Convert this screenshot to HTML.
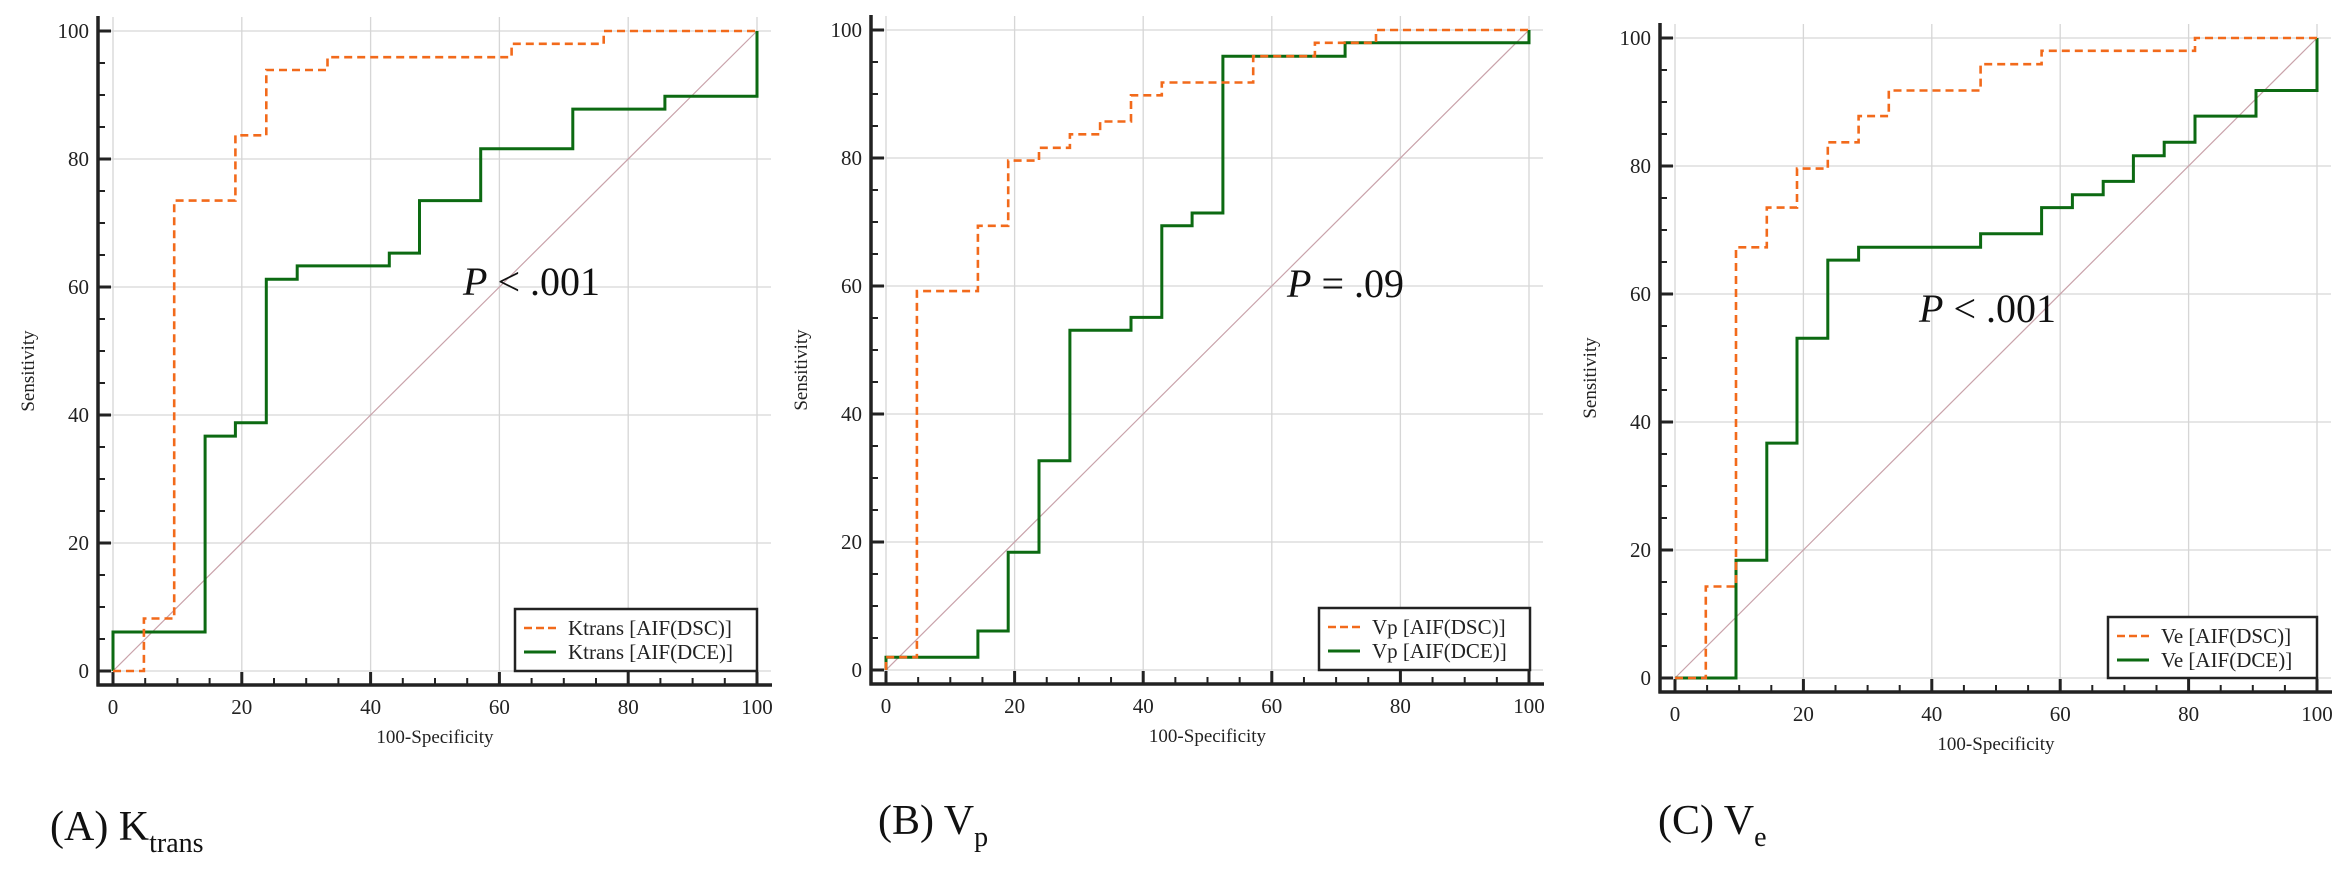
<!DOCTYPE html>
<html><head><meta charset="utf-8"><style>
html,body{margin:0;padding:0;background:#fff;}
svg{display:block;font-family:"Liberation Serif",serif;}
</style></head><body>
<svg id="fig" width="2339" height="875" viewBox="0 0 2339 875" xmlns="http://www.w3.org/2000/svg"></svg>
<script>
// ROC vertices (100-Specificity, Sensitivity)
const ktransDscX=[0,4.8,4.8,9.5,9.5,19,19,23.8,23.8,33.3,33.3,61.9,61.9,76.2,76.2,100];
const ktransDscY=[0,0,8.2,8.2,73.5,73.5,83.7,83.7,93.9,93.9,95.9,95.9,98,98,100,100];
const ktransDceX=[0,0,14.3,14.3,19,19,23.8,23.8,28.6,28.6,42.9,42.9,47.6,47.6,57.1,57.1,71.4,71.4,85.7,85.7,100,100];
const ktransDceY=[0,6.1,6.1,36.7,36.7,38.8,38.8,61.2,61.2,63.3,63.3,65.3,65.3,73.5,73.5,81.6,81.6,87.8,87.8,89.8,89.8,100];
const vpDscX=[0,0,4.8,4.8,14.3,14.3,19,19,23.8,23.8,28.6,28.6,33.3,33.3,38.1,38.1,42.9,42.9,57.1,57.1,66.7,66.7,76.2,76.2,100];
const vpDscY=[0,2,2,59.2,59.2,69.4,69.4,79.6,79.6,81.6,81.6,83.7,83.7,85.7,85.7,89.8,89.8,91.8,91.8,95.9,95.9,98,98,100,100];
const vpDceX=[0,0,14.3,14.3,19,19,23.8,23.8,28.6,28.6,38.1,38.1,42.9,42.9,47.6,47.6,52.4,52.4,71.4,71.4,100,100];
const vpDceY=[0,2,2,6.1,6.1,18.4,18.4,32.7,32.7,53.1,53.1,55.1,55.1,69.4,69.4,71.4,71.4,95.9,95.9,98,98,100];
const veDscX=[0,4.8,4.8,9.5,9.5,14.3,14.3,19,19,23.8,23.8,28.6,28.6,33.3,33.3,47.6,47.6,57.1,57.1,81,81,100];
const veDscY=[0,0,14.3,14.3,67.3,67.3,73.5,73.5,79.6,79.6,83.7,83.7,87.8,87.8,91.8,91.8,95.9,95.9,98,98,100,100];
const veDceX=[0,9.5,9.5,14.3,14.3,19,19,23.8,23.8,28.6,28.6,47.6,47.6,57.1,57.1,61.9,61.9,66.7,66.7,71.4,71.4,76.2,76.2,81,81,90.5,90.5,100,100];
const veDceY=[0,0,18.4,18.4,36.7,36.7,53.1,53.1,65.3,65.3,67.3,67.3,69.4,69.4,73.5,73.5,75.5,75.5,77.6,77.6,81.6,81.6,83.7,83.7,87.8,87.8,91.8,91.8,100];
const tickValues=[0,20,40,60,80,100];
const pLabels=["< .001","= .09","< .001"];
const legendNames=["Ktrans","Vp","Ve"];

const NS="http://www.w3.org/2000/svg";
const svg=document.getElementById('fig');
function mk(tag,attrs,parent){const e=document.createElementNS(NS,tag);for(const k in attrs)e.setAttribute(k,attrs[k]);(parent||svg).appendChild(e);return e;}

const panels=[
 {id:'a',x0:113,x1:757,y0:671,y1:31,ax:98,ay:685,lg:[515,609,242,62],p:[463,295],dsc:[ktransDscX,ktransDscY],dce:[ktransDceX,ktransDceY],lab:[50,840,"(A) K","trans"]},
 {id:'b',x0:886,x1:1529,y0:670,y1:30,ax:871,ay:684,lg:[1319,608,211,62],p:[1287,297],dsc:[vpDscX,vpDscY],dce:[vpDceX,vpDceY],lab:[878,834,"(B) V","p"]},
 {id:'c',x0:1675,x1:2317,y0:678,y1:38,ax:1660,ay:692,lg:[2108,617,209,61],p:[1919,322],dsc:[veDscX,veDscY],dce:[veDceX,veDceY],lab:[1658,834,"(C) V","e"]}
];

panels.forEach((P,i)=>{
 const g=mk('g',{});
 
 
 const sx=v=>P.x0+(P.x1-P.x0)*v/100;
 const sy=v=>P.y0+(P.y1-P.y0)*v/100;
 tickValues.forEach(t=>{
  const v=mk('line',{x1:sx(t),x2:sx(t),y1:P.y1-14,y2:P.ay,stroke:'#d6d6d6','stroke-width':1.3},g);
  
  
  const h=mk('line',{x1:P.ax,x2:P.x1+14,y1:sy(t),y2:sy(t),stroke:'#d6d6d6','stroke-width':1.3},g);
  
  
 });
 const d=mk('line',{x1:sx(0),y1:sy(0),x2:sx(100),y2:sy(100),stroke:'#c9a2aa','stroke-width':1.2},g);
 
 
 const ya=mk('line',{x1:P.ax,x2:P.ax,y1:P.y1-15,y2:P.ay+1.5,stroke:'#222','stroke-width':3.5},g);
 
 
 const xa=mk('line',{x1:P.ax-1.5,x2:P.x1+15,y1:P.ay,y2:P.ay,stroke:'#222','stroke-width':3.5},g);
 
 
 for(let t=0;t<=100;t+=5){
  const major=t%20===0;
  const L=major?13:7;
  mk('line',{x1:P.ax,x2:P.ax+L,y1:sy(t),y2:sy(t),stroke:'#222','stroke-width':major?3:2},g);
  mk('line',{x1:sx(t),x2:sx(t),y1:P.ay,y2:P.ay-L,stroke:'#222','stroke-width':major?3:2},g);
 }
 tickValues.forEach(t=>{
  const yl=mk('text',{x:P.ax-9,y:sy(t)+7,'text-anchor':'end','font-size':21,fill:'#222'},g);
  yl.textContent=t;
  
  
  const xl=mk('text',{x:sx(t),y:P.ay+29,'text-anchor':'middle','font-size':21,fill:'#222'},g);
  xl.textContent=t;
  
  
 });
 const yt=mk('text',{x:0,y:0,'text-anchor':'middle','font-size':19,fill:'#222',transform:`translate(${P.ax-64},${(P.y0+P.y1)/2+20}) rotate(-90)`},g);
 yt.textContent='Sensitivity';
 
 
 const xt=mk('text',{x:(P.x0+P.x1)/2,y:P.ay+58,'text-anchor':'middle','font-size':19,fill:'#222'},g);
 xt.textContent='100-Specificity';
 
 
 const pts=(X,Y)=>X.map((x,k)=>sx(x).toFixed(1)+','+sy(Y[k]).toFixed(1)).join(' ');
 const dce=mk('polyline',{points:pts(P.dce[0],P.dce[1]),fill:'none',stroke:'#0c6a12','stroke-width':3},g);
 
 
 const dsc=mk('polyline',{points:pts(P.dsc[0],P.dsc[1]),fill:'none',stroke:'#f26a1b','stroke-width':2.6,'stroke-dasharray':'8,5'},g);
 
 
 const pt=mk('text',{x:P.p[0],y:P.p[1],'font-size':40,fill:'#111'},g);
 
 
 const pi=mk('tspan',{'font-style':'italic'},pt);pi.textContent='P';
 const pr=mk('tspan',{},pt);pr.textContent=' '+pLabels[i];
 const [lx,ly,lw,lh]=P.lg;
 const lgG=mk('g',{},g);
 
 
 mk('rect',{x:lx,y:ly,width:lw,height:lh,fill:'#fff',stroke:'#222','stroke-width':2.5},lgG);
 mk('line',{x1:lx+9,x2:lx+41,y1:ly+19,y2:ly+19,stroke:'#f26a1b','stroke-width':2.6,'stroke-dasharray':'8,4'},lgG);
 mk('line',{x1:lx+9,x2:lx+41,y1:ly+43,y2:ly+43,stroke:'#0c6a12','stroke-width':3},lgG);
 const t1=mk('text',{x:lx+53,y:ly+26,'font-size':21,fill:'#222'},lgG);
 t1.textContent=legendNames[i]+' [AIF(DSC)]';
 
 
 const t2=mk('text',{x:lx+53,y:ly+50,'font-size':21,fill:'#222'},lgG);
 t2.textContent=legendNames[i]+' [AIF(DCE)]';
 
 
 const lb=mk('text',{x:P.lab[0],y:P.lab[1],'font-size':42,fill:'#111'},svg);
 
 
 const m=mk('tspan',{},lb);m.textContent=P.lab[2];
 const s=mk('tspan',{'font-size':28,dy:12},lb);s.textContent=P.lab[3];
});
</script>
</body></html>
